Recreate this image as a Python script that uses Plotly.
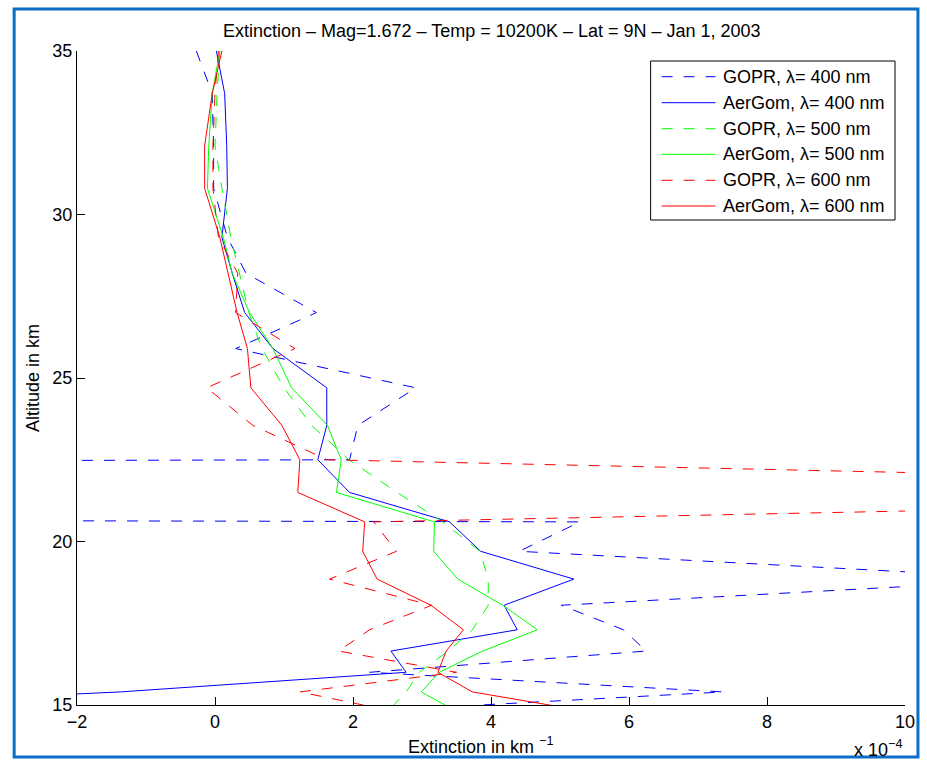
import plotly.graph_objects as go

# Tangent altitude grid shared by all profiles (km)
altitude_km = [35.0, 33.7, 32.1, 30.8, 29.3, 28.2, 27.0, 25.9, 24.7, 23.55, 22.5,
               21.5, 20.6, 19.7, 18.85, 18.05, 17.3, 16.65, 16.0, 15.4, 14.8]

# Extinction profiles in units of 1e-4 km^-1
gopr_400 = [-0.27, -0.04, -0.02, -0.02, 0.18, 0.45, 1.47, 0.30, 2.91, 2.07, 1.95,
            -200.0, 5.29, 4.41, 12.0, 5.02, 5.92, 6.25, 2.24, 7.37, 2.1]
aergom_400 = [0.02, 0.14, 0.17, 0.18, 0.10, 0.25, 0.43, 0.84, 1.62, 1.62, 1.49,
              1.95, 3.40, 3.85, 5.20, 4.19, 4.38, 2.55, 2.77, -1.37, -7.5]
gopr_500 = [0.07, 0.03, 0.00, 0.10, 0.23, 0.35, 0.49, 0.68, 1.00, 1.40, 1.94,
            2.64, 3.30, 3.84, 3.96, 3.96, 3.73, 3.38, 2.96, 2.77, 2.5]
aergom_500 = [0.07, -0.04, -0.09, -0.11, 0.12, 0.25, 0.50, 0.84, 1.11, 1.63, 1.83,
              1.76, 3.18, 3.17, 3.52, 4.17, 4.67, 3.88, 3.25, 2.99, 3.5]
gopr_600 = [0.05, 0.00, -0.03, -0.03, 0.05, 0.33, 0.30, 1.16, -0.12, 0.55, 1.62,
            23.2, 2.30, 2.63, 1.66, 3.14, 2.24, 1.79, 3.50, 1.23, 2.6]
aergom_600 = [0.10, -0.04, -0.15, -0.15, 0.07, 0.19, 0.32, 0.47, 0.52, 0.97, 1.23,
              1.20, 2.17, 2.14, 2.35, 3.13, 3.60, 3.35, 3.23, 3.73, 5.4]

x_ticks = [-2, 0, 2, 4, 6, 8, 10]
y_ticks = [15, 20, 25, 30, 35]


def tick_text(v):
    return str(v).replace("-", "−")


series = [
    ("GOPR, λ= 400 nm", gopr_400, "#0000ff", True),
    ("AerGom, λ= 400 nm", aergom_400, "#0000ff", False),
    ("GOPR, λ= 500 nm", gopr_500, "#00ff00", True),
    ("AerGom, λ= 500 nm", aergom_500, "#00ff00", False),
    ("GOPR, λ= 600 nm", gopr_600, "#ff0000", True),
    ("AerGom, λ= 600 nm", aergom_600, "#ff0000", False),
]

DASH = "11px,11px"
FONT = "Liberation Sans, Arial, sans-serif"
FS = 18

# Plot area in pixels
W, H = 927, 765
L, R, T, B = 77, 907, 51, 705


def px(x):
    return (x - L) / (R - L)


def py(y):
    return (B - y) / (B - T)


fig = go.Figure()
for name, vals, color, dashed in series:
    fig.add_trace(go.Scatter(
        x=vals, y=altitude_km, mode="lines", name=name, showlegend=False,
        line=dict(color=color, width=1, dash=DASH if dashed else "solid"),
    ))

shapes = []
annotations = []

# Legend box with line samples
shapes.append(dict(type="rect", xref="paper", yref="paper",
                   x0=px(652), x1=px(897), y0=py(220), y1=py(61),
                   line=dict(color="black", width=1), fillcolor="white", layer="above"))
entry_y = [76.7, 102.7, 128.7, 154.3, 180.3, 206.0]
for (name, vals, color, dashed), ey in zip(series, entry_y):
    shapes.append(dict(type="line", xref="paper", yref="paper",
                       x0=px(663), x1=px(717), y0=py(ey), y1=py(ey), layer="above",
                       line=dict(color=color, width=1, dash=DASH if dashed else "solid")))
    annotations.append(dict(xref="paper", yref="paper", x=px(723), y=py(ey),
                            xanchor="left", yanchor="middle", showarrow=False,
                            text=name, font=dict(family=FONT, size=FS, color="black")))

# Figure frame
shapes.append(dict(type="rect", xref="paper", yref="paper",
                   x0=px(14), x1=px(920), y0=py(757), y1=py(9),
                   line=dict(color="#0a6ec8", width=3), layer="above"))

annotations += [
    dict(xref="paper", yref="paper", x=px(493), y=py(31), xanchor="center", yanchor="middle",
         showarrow=False, text="Extinction – Mag=1.672 – Temp = 10200K – Lat = 9N – Jan 1, 2003",
         font=dict(family=FONT, size=FS, color="black")),
    dict(xref="paper", yref="paper", x=px(481), y=py(746), xanchor="center", yanchor="middle",
         showarrow=False, text="Extinction in km <sup>−1</sup>",
         font=dict(family=FONT, size=FS, color="black")),
    dict(xref="paper", yref="paper", x=px(906), y=py(748), xanchor="right", yanchor="middle",
         showarrow=False, text="x 10<sup>−4</sup>",
         font=dict(family=FONT, size=FS, color="black")),
    dict(xref="paper", yref="paper", x=px(33), y=py(378), xanchor="center", yanchor="middle",
         showarrow=False, text="Altitude in km", textangle=-90,
         font=dict(family=FONT, size=FS, color="black")),
]

fig.update_layout(
    width=W, height=H, autosize=False,
    margin=dict(l=L, r=W - R, t=T, b=H - B, pad=0),
    paper_bgcolor="white", plot_bgcolor="white",
    showlegend=False,
    shapes=shapes, annotations=annotations,
    font=dict(family=FONT, size=FS, color="black"),
)
fig.update_xaxes(range=[-2, 10], tickvals=x_ticks, ticktext=[tick_text(v) for v in x_ticks],
                 showgrid=False, zeroline=False, showline=True, linecolor="black",
                 linewidth=1, ticks="inside", ticklen=8, tickcolor="black",
                 tickfont=dict(family=FONT, size=FS), mirror=False)
fig.update_yaxes(range=[15, 35], tickvals=y_ticks, ticktext=[tick_text(v) for v in y_ticks],
                 showgrid=False, zeroline=False, showline=True, linecolor="black",
                 linewidth=1, ticks="inside", ticklen=8, tickcolor="black",
                 tickfont=dict(family=FONT, size=FS), mirror=False)

fig.write_html("out.html")
